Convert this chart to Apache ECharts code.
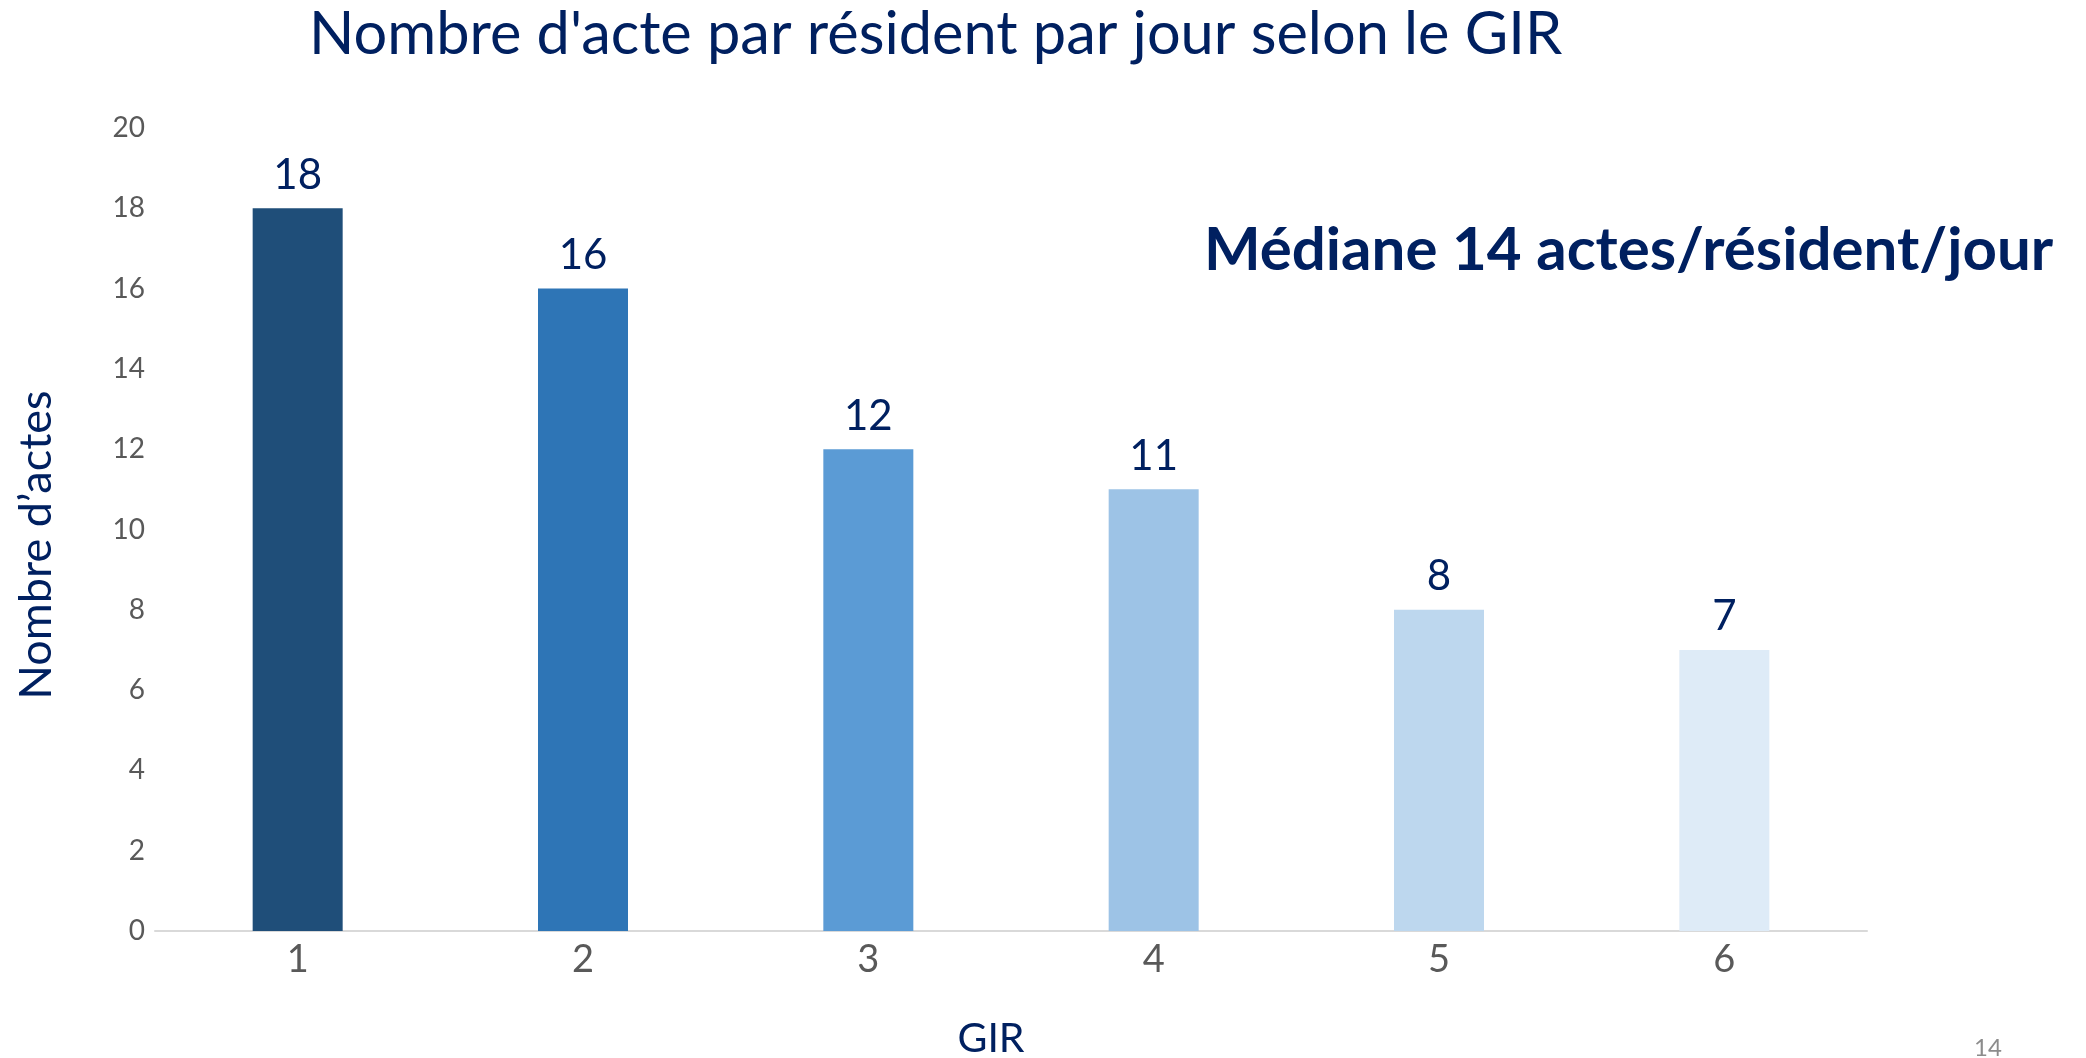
<!DOCTYPE html>
<html>
<head>
<meta charset="utf-8">
<script src="https://cdn.jsdelivr.net/npm/echarts@6/dist/echarts.min.js"></script>
<style>
  html, body { margin: 0; padding: 0; background: #ffffff; }
  #chart { width: 2086px; height: 1058px; }
</style>
</head>
<body>
<div id="chart"></div>
<script>
const categories = ['1', '2', '3', '4', '5', '6'];
const values = [18, 16, 12, 11, 8, 7];
const yTicks = [0, 2, 4, 6, 8, 10, 12, 14, 16, 18, 20];
const titleText = "Nombre d'acte par résident par jour selon le GIR";
const noteText = 'Médiane 14 actes/résident/jour';
const xName = 'GIR';
const yName = 'Nombre d\u2019actes';
const pageNumber = '14';

const barColors = ['#1F4E79', '#2E75B6', '#5B9BD5', '#9DC3E6', '#BDD7EE', '#DEEBF7'];
const navy = '#002060';
const FONT = 'Lato';

const chart = echarts.init(document.getElementById('chart'), null, { renderer: 'canvas' });
chart.setOption({
  backgroundColor: '#ffffff',
  animation: false,
  grid: { left: 155, right: 219, top: 128, bottom: 127, containLabel: false, outerBoundsMode: 'none' },
  xAxis: {
    type: 'category',
    data: categories,
    axisLine: { show: true, lineStyle: { color: '#D9D9D9', width: 2 } },
    axisTick: { show: false },
    axisLabel: { color: '#595959', fontFamily: FONT, fontSize: 38, margin: 10 }
  },
  yAxis: {
    type: 'value',
    min: yTicks[0],
    max: yTicks[yTicks.length - 1],
    interval: 2,
    axisLine: { show: false },
    axisTick: { show: false },
    splitLine: { show: false },
    axisLabel: { color: '#595959', fontFamily: FONT, fontSize: 28, margin: 10 }
  },
  series: [{
    type: 'bar',
    data: values.map((v, i) => ({ value: v, itemStyle: { color: barColors[i] } })),
    barWidth: 90,
    label: {
      show: true,
      position: 'top',
      distance: 12,
      color: navy,
      fontFamily: FONT,
      fontSize: 42
    }
  }],
  graphic: [
    {
      type: 'text', left: 309, top: 5,
      style: { text: titleText, fill: navy, font: '59.5px ' + FONT }
    },
    {
      type: 'text', left: 1204, top: 221,
      style: { text: noteText, fill: navy, font: 'bold 60px ' + FONT }
    },
    {
      type: 'text', x: 991, y: 1039,
      style: { text: xName, fill: navy, font: '41px ' + FONT, align: 'center', verticalAlign: 'middle' }
    },
    {
      type: 'text', x: 36, y: 545, rotation: Math.PI / 2,
      style: { text: yName, fill: navy, font: '45px ' + FONT, align: 'center', verticalAlign: 'middle' }
    },
    {
      type: 'text', left: 1974, top: 1036,
      style: { text: pageNumber, fill: '#8C8C8C', font: '24px ' + FONT }
    }
  ]
});
</script>
</body>
</html>
